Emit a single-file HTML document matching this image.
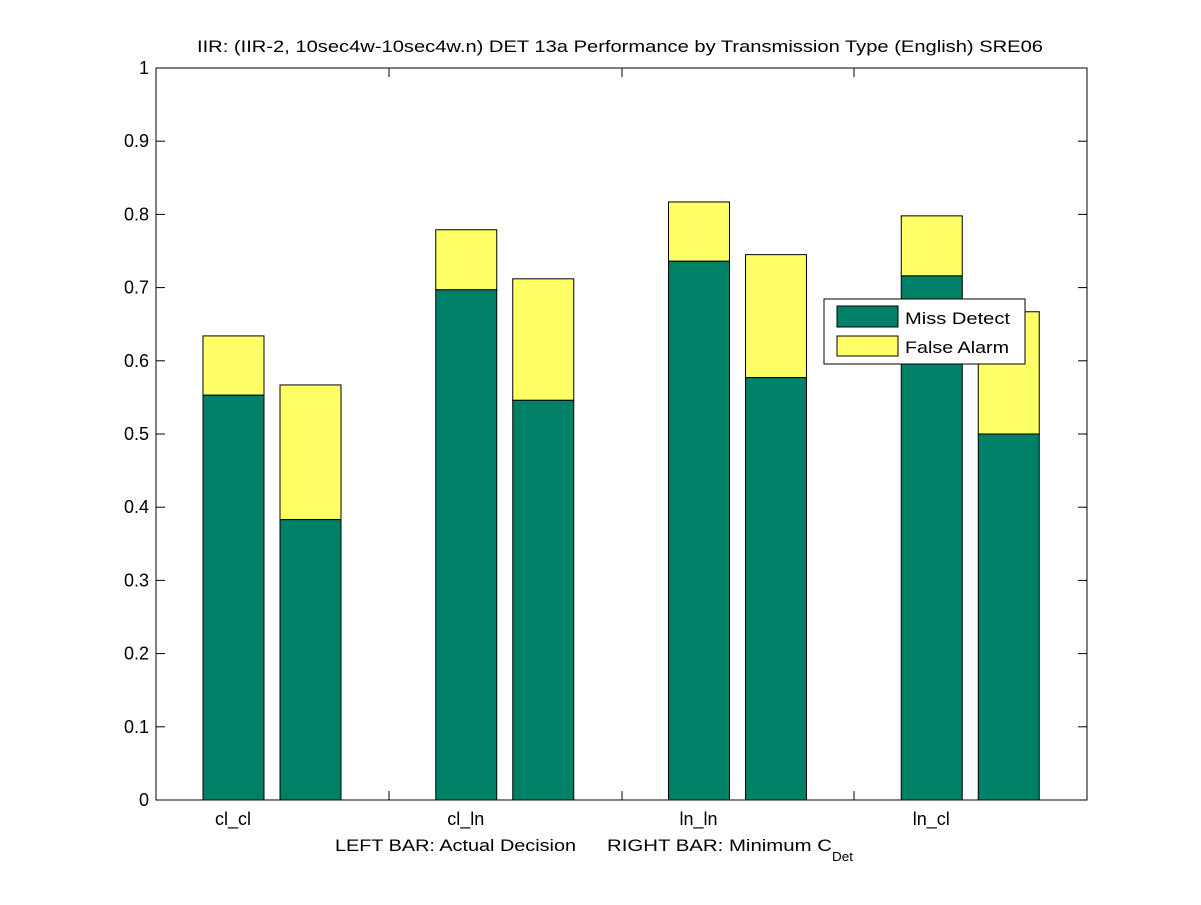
<!DOCTYPE html>
<html><head><meta charset="utf-8"><style>
body{margin:0;background:#fff}
svg text{font-family:"Liberation Sans",sans-serif;fill:#000}
</style></head><body>
<svg id="c" width="1201" height="900" xmlns="http://www.w3.org/2000/svg">
<rect width="1201" height="900" fill="#fff"/>
<text x="197" y="52" font-size="17" textLength="846" lengthAdjust="spacingAndGlyphs">IIR: (IIR-2, 10sec4w-10sec4w.n) DET 13a Performance by Transmission Type (English) SRE06</text>
<g id="bars"></g>
<rect x="156" y="68" width="931" height="732" fill="none" stroke="#000"/>
<g id="axes"></g>
<text x="335" y="851" font-size="17" textLength="241" lengthAdjust="spacingAndGlyphs">LEFT BAR: Actual Decision</text>
<text x="607" y="851" font-size="17" textLength="225" lengthAdjust="spacingAndGlyphs">RIGHT BAR: Minimum C</text>
<text x="832" y="861" font-size="13" textLength="21" lengthAdjust="spacingAndGlyphs">Det</text>
<g>
<rect x="824" y="299" width="201" height="65" fill="#fff" stroke="#000"/>
<rect x="837" y="306" width="61" height="21" fill="#008066" stroke="#000"/>
<text x="905" y="324" font-size="17" textLength="105" lengthAdjust="spacingAndGlyphs">Miss Detect</text>
<rect x="837" y="336" width="61" height="20" fill="#ffff66" stroke="#000"/>
<text x="905" y="353" font-size="17" textLength="104" lengthAdjust="spacingAndGlyphs">False Alarm</text>
</g>
</svg>
<script>
const categories=["cl_cl","cl_ln","ln_ln","ln_cl"];
const actualMiss=[0.553,0.697,0.736,0.716];
const actualTotal=[0.634,0.779,0.817,0.798];
const minMiss=[0.383,0.546,0.577,0.500];
const minTotal=[0.567,0.712,0.745,0.667];
const yTicks=[0,0.1,0.2,0.3,0.4,0.5,0.6,0.7,0.8,0.9,1];
const ns="http://www.w3.org/2000/svg";
const L=156,R=1087,T=68,B=800;
const y=v=>B-v*(B-T);
const groupW=(R-L)/4;
const gc=i=>L+77+i*groupW;
function mk(tag,at,parent){const e=document.createElementNS(ns,tag);for(const k in at)e.setAttribute(k,at[k]);parent.appendChild(e);return e;}
const bars=document.getElementById('bars'),axes=document.getElementById('axes');
categories.forEach((c,i)=>{
  [[actualMiss[i],actualTotal[i],gc(i)-30],[minMiss[i],minTotal[i],gc(i)+47]].forEach((d,j)=>{
    const fa=mk('rect',{x:d[2],y:y(d[1]),width:61,height:y(d[0])-y(d[1]),fill:'#ffff66',stroke:'#000'},bars);
    
    
    const m=mk('rect',{x:d[2],y:y(d[0]),width:61,height:B-y(d[0]),fill:'#008066',stroke:'#000'},bars);
    
    
  });
  const t=mk('text',{x:gc(i),y:825,'font-size':18,'text-anchor':'middle'},axes);
  t.textContent=c;
  
  
  if(i>0){const xx=Math.round(L+i*groupW);
    mk('line',{x1:xx,x2:xx,y1:B,y2:B-9,stroke:'#000'},axes);
    mk('line',{x1:xx,x2:xx,y1:T,y2:T+9,stroke:'#000'},axes);}
});
yTicks.forEach(v=>{
  mk('line',{x1:L,x2:L+9,y1:y(v),y2:y(v),stroke:'#000'},axes);
  mk('line',{x1:R,x2:R-9,y1:y(v),y2:y(v),stroke:'#000'},axes);
  const t=mk('text',{x:149,y:y(v)+6,'font-size':18,'text-anchor':'end'},axes);
  t.textContent=String(v);
  
  
});
</script>
</body></html>
